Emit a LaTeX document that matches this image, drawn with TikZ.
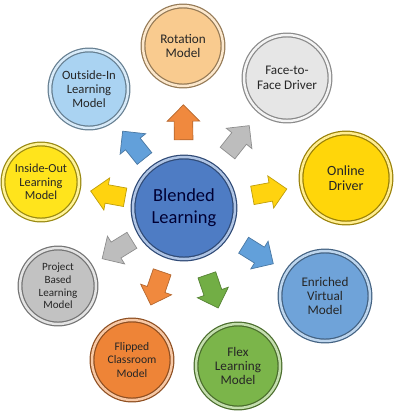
\documentclass[tikz,border=0pt]{standalone}
\usepackage{fontspec}
\setmainfont{Carlito}
\usetikzlibrary{calc,shapes.arrows}

\definecolor{hubc}{HTML}{4E7CC4}
\definecolor{rotc}{HTML}{F9CB8F}
\definecolor{facec}{HTML}{E6E6E6}
\definecolor{onlc}{HTML}{FFD60A}
\definecolor{enrc}{HTML}{6FA3D9}
\definecolor{flexc}{HTML}{7BB54A}
\definecolor{flipc}{HTML}{EE8437}
\definecolor{projc}{HTML}{C2C2C2}
\definecolor{insc}{HTML}{FFE41C}
\definecolor{outc}{HTML}{AAD3F2}
\definecolor{aorange}{HTML}{F0893E}
\definecolor{agray}{HTML}{BDBDBD}
\definecolor{ayellow}{HTML}{FFD30F}
\definecolor{ablue}{HTML}{62A0DA}
\definecolor{agreen}{HTML}{72AE45}

\begin{document}
\begin{tikzpicture}[x=0.02cm,y=-0.02cm,
  model/.style={circle,draw=#1!60!black,fill=#1,double=#1!45!white,
    double distance=1.4pt,line width=0.7pt,align=center,inner sep=0pt,
    font=\fontsize{7.5}{8.2}\selectfont,text=black!85},
  blk/.style={single arrow,draw=#1!75!black,fill=#1,line width=0.4pt,
    minimum height=0.7cm,minimum width=0.64cm,
    single arrow head extend=0.14cm,inner sep=0pt}]

\useasboundingbox (0,0) rectangle (400,414);

% the hub
\node[model=hubc,minimum size=2.04cm,text={black!80!blue},
  font=\fontsize{10.5}{12.5}\selectfont] (bl) at (184,208) {Blended\\Learning};

% the nine models round it
\node[model=rotc,minimum size=1.6cm] (rot) at (183,46) {Rotation\\Model};
\node[model=facec,minimum size=1.72cm] (face) at (287,78) {Face-to-\\Face Driver};
\node[model=onlc,minimum size=1.8cm,font=\fontsize{8}{8.8}\selectfont] (onl) at (346,178) {Online\\Driver};
\node[model=enrc,minimum size=1.8cm] (enr) at (325,296) {Enriched\\Virtual\\Model};
\node[model=flexc,minimum size=1.68cm] (flex) at (238,366) {Flex\\Learning\\Model};
\node[model=flipc,minimum size=1.6cm,font=\fontsize{6.6}{7.6}\selectfont] (flip) at (132,360) {Flipped\\Classroom\\Model};
\node[model=projc,minimum size=1.52cm,font=\fontsize{6.3}{7.2}\selectfont] (proj) at (58,286) {Project\\Based\\Learning\\Model};
\node[model=insc,minimum size=1.52cm,font=\fontsize{7}{7.8}\selectfont] (ins) at (41,182) {Inside-Out\\Learning\\Model};
\node[model=outc,minimum size=1.56cm,font=\fontsize{7.2}{8}\selectfont] (out) at (89,89) {Outside-In\\Learning\\Model};

% the block arrows, half way out
\foreach \m/\c in {rot/aorange,face/agray,onl/ayellow,enr/ablue,flex/agreen,
                   flip/aorange,proj/agray,ins/ayellow,out/ablue}
  \path let \p1=($(\m)-(bl)$), \n1={atan2(\y1,\x1)} in
    node[blk=\c,rotate=\n1] (a-\m) at ($(bl)!0.5!(\m)$) {\rule{0pt}{0.36cm}};
\end{tikzpicture}
\end{document}
